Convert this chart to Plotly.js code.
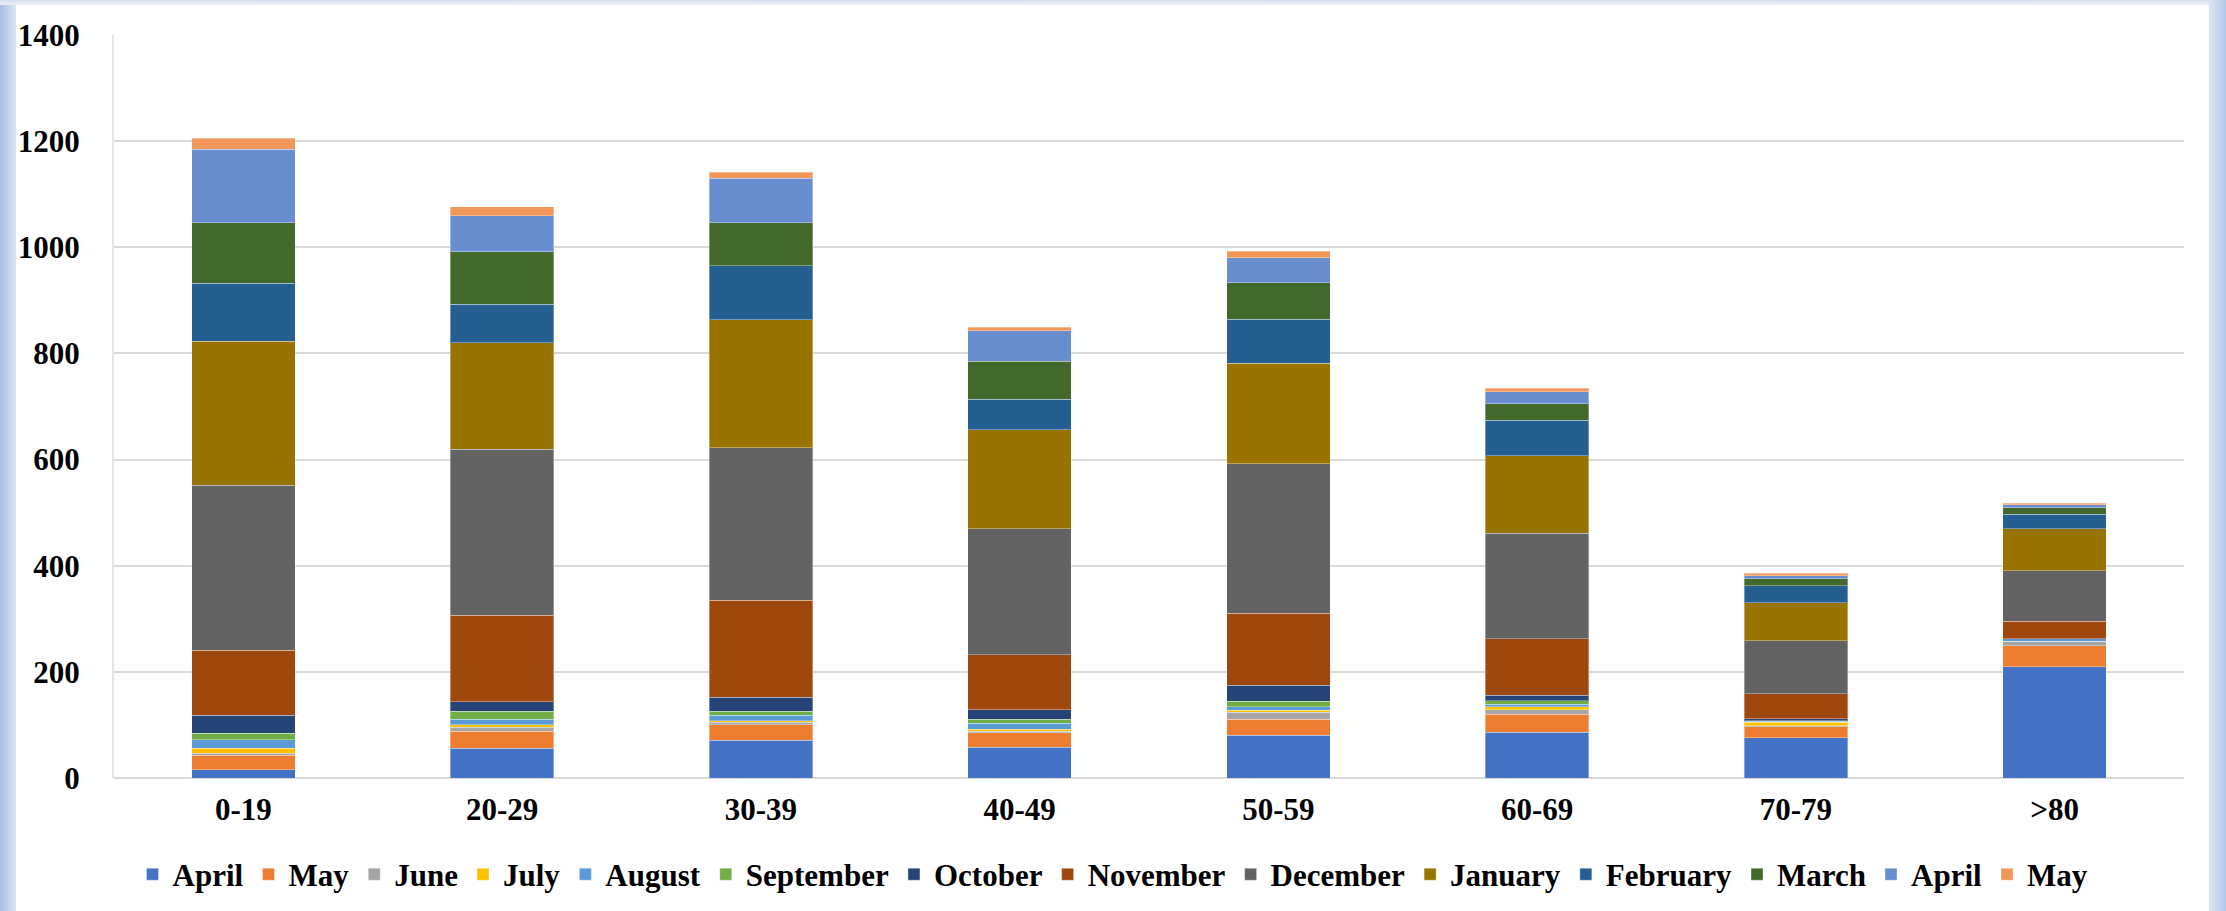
<!DOCTYPE html>
<html>
<head>
<meta charset="utf-8">
<script src="https://cdn.plot.ly/plotly-3.0.1.min.js"></script>
<style>
  html, body { margin: 0; padding: 0; background: #ffffff; }
  #frame { position: relative; width: 2226px; height: 911px; overflow: hidden; background: #ffffff; }
  #leftstrip { position: absolute; left: 0; top: 0; width: 16px; height: 911px;
               background: linear-gradient(to right, #a9bfe4, #dce5f4); }
  #topstrip { position: absolute; left: 0; top: 0; width: 2226px; height: 5px;
              background: linear-gradient(to bottom, #d5deed, #eef2f9); }
  #rightstrip { position: absolute; left: 2209px; top: 0; width: 17px; height: 911px;
                background: linear-gradient(to right, #dce5f4, #b4c8e8); }
  #chart { position: absolute; left: 0; top: 0; width: 2226px; height: 911px; }
</style>
</head>
<body>
<div id="frame"><div id="leftstrip"></div><div id="topstrip"></div><div id="rightstrip"></div><div id="chart"></div></div>
<script>
const categories = ['0-19', '20-29', '30-39', '40-49', '50-59', '60-69', '70-79', '>80'];

const seriesNames = ['April', 'May', 'June', 'July', 'August', 'September', 'October',
                     'November', 'December', 'January', 'February', 'March', 'April', 'May'];

const april1    = [16, 56, 71.5, 57.5, 81, 86, 76, 210];
const may1      = [27, 32, 29, 28, 30, 34, 21, 39.5];
const june      = [4, 7.5, 4.5, 2.5, 12.5, 9, 1.5, 8];
const july      = [9, 4.5, 3, 4, 4, 5.5, 7, 0.5];
const august    = [16, 11, 10, 11, 7, 4.5, 1.5, 4.5];
const september = [12, 15, 7.5, 8, 10, 7, 0.5, 0];
const october   = [34, 17.5, 27, 18, 30.5, 10, 4.5, 0];
const november  = [123, 163, 182.5, 103, 135.5, 106, 47, 33];
const december  = [311, 313, 287, 238, 282, 199, 100, 95];
const january   = [271, 201, 241, 186, 189, 146, 71.5, 79];
const february  = [109, 72, 102, 58, 83, 67, 32, 27.5];
const march     = [114, 99, 81, 71, 69, 31, 13, 12.5];
const april2    = [139, 68, 84, 58, 47, 23, 6, 5.5];
const may2      = [20, 17, 11, 6, 12, 6, 4.5, 3];

const seriesValues = [april1, may1, june, july, august, september, october,
                      november, december, january, february, march, april2, may2];

const colors = ['#4472C4', '#ED7D31', '#A5A5A5', '#FFC000', '#5B9BD5', '#70AD47', '#264478',
                '#9E480E', '#636363', '#997300', '#255E91', '#43682B', '#698ED0', '#F1975A'];

const yTicks = [0, 200, 400, 600, 800, 1000, 1200, 1400];

const FONT = '"Liberation Serif", "Times New Roman", serif';

const traces = seriesValues.map((vals, i) => ({
  type: 'bar',
  name: seriesNames[i],
  x: categories,
  y: vals,
  marker: { color: colors[i], line: { color: 'rgba(255,255,255,0.35)', width: 1 } },
  hoverinfo: 'x+y+name'
}));

const layout = {
  width: 2226,
  height: 911,
  barmode: 'stack',
  bargap: 0.6,
  paper_bgcolor: 'rgba(0,0,0,0)',
  plot_bgcolor: '#ffffff',
  margin: { l: 114, r: 42, t: 35, b: 133 },
  font: { family: FONT, size: 31, color: '#000000' },
  xaxis: {
    type: 'category',
    tickfont: { family: FONT, size: 31, color: '#000000', weight: 'bold' },
    showgrid: false,
    showline: false,
    zeroline: false,
    ticks: '',
    ticklabelstandoff: 10
  },
  yaxis: {
    range: [0, 1400],
    tickvals: yTicks,
    ticktext: yTicks.map(String),
    tickfont: { family: FONT, size: 31, color: '#000000', weight: 'bold' },
    showgrid: true,
    gridcolor: '#D9D9D9',
    gridwidth: 2,
    zeroline: true,
    zerolinecolor: '#D9D9D9',
    zerolinewidth: 2,
    showline: true,
    linecolor: '#E4E4E4',
    linewidth: 2,
    ticks: '',
    ticklabelstandoff: 26
  },
  showlegend: true,
  legend: {
    orientation: 'h',
    x: 0.5,
    xanchor: 'center',
    xref: 'container',
    y: 0.04,
    yanchor: 'middle',
    yref: 'container',
    font: { family: FONT, size: 31, color: '#000000', weight: 'bold' },
    traceorder: 'normal',
    itemwidth: 30,
    bgcolor: 'rgba(0,0,0,0)'
  }
};

Plotly.newPlot('chart', traces, layout, { displayModeBar: false, staticPlot: true });
</script>
</body>
</html>
